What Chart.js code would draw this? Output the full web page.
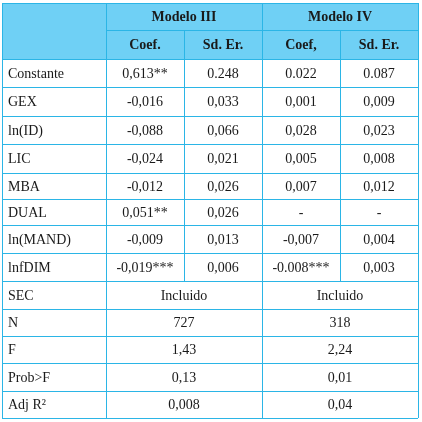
<!DOCTYPE html>
<html><head><meta charset="utf-8">
<script src="https://cdn.jsdelivr.net/npm/chart.js@4/dist/chart.umd.min.js"></script>
<style>html,body{margin:0;padding:0;background:#fff}#w{width:422px;height:422px}</style>
</head><body><div id="w"><canvas id="c"></canvas></div>
<script>
const models = ["Modelo III", "Modelo IV"];
const subHeaders = ["Coef.", "Sd. Er.", "Coef,", "Sd. Er."];
const variables = ["Constante","GEX","ln(ID)","LIC","MBA","DUAL","ln(MAND)","lnfDIM"];
const coefIII = ["0,613**","-0,016","-0,088","-0,024","-0,012","0,051**","-0,009","-0,019***"];
const sdIII = ["0.248","0,033","0,066","0,021","0,026","0,026","0,013","0,006"];
const coefIV = ["0.022","0,001","0,028","0,005","0,007","-","-0,007","-0.008***"];
const sdIV = ["0.087","0,009","0,023","0,008","0,012","-","0,004","0,003"];
const statLabels = ["SEC","N","F","Prob>F","Adj R²"];
const statIII = ["Incluido","727","1,43","0,13","0,008"];
const statIV = ["Incluido","318","2,24","0,01","0,04"];

const colEdges = [2,106,184,262,340,418];
const rowEdges = [3,30,59,87,116,144,173,199,225,253,281,309,336,363,391,418];

const tablePlugin = {
  id:'table',
  afterDraw(chart){
    const ctx=chart.ctx, xs=chart.scales.x, ys=chart.scales.y;
    const X=v=>xs.getPixelForValue(v), Y=v=>ys.getPixelForValue(v);
    const line='#2bb5e6';
    ctx.save();
    ctx.fillStyle='#6fd0f5';
    ctx.fillRect(X(colEdges[0]),Y(rowEdges[0]),X(colEdges[5])-X(colEdges[0]),Y(rowEdges[2])-Y(rowEdges[0]));
    ctx.strokeStyle=line; ctx.lineWidth=1;
    const hl=(y,x0,x1)=>{ctx.beginPath();ctx.moveTo(X(x0),Math.round(Y(y))+0.5);ctx.lineTo(X(x1),Math.round(Y(y))+0.5);ctx.stroke();};
    const vl=(x,y0,y1)=>{ctx.beginPath();ctx.moveTo(Math.round(X(x))+0.5,Y(y0));ctx.lineTo(Math.round(X(x))+0.5,Y(y1));ctx.stroke();};
    rowEdges.forEach((r,i)=>{ if(i===1) hl(r,colEdges[1],colEdges[5]); else hl(r,colEdges[0],colEdges[5]); });
    const last=rowEdges.length-1, dataEnd=2+variables.length;
    vl(colEdges[0],rowEdges[0],rowEdges[last]);
    vl(colEdges[1],rowEdges[0],rowEdges[last]);
    vl(colEdges[3],rowEdges[0],rowEdges[last]);
    vl(colEdges[5],rowEdges[0],rowEdges[last]);
    vl(colEdges[2],rowEdges[1],rowEdges[dataEnd]);
    vl(colEdges[4],rowEdges[1],rowEdges[dataEnd]);
    ctx.fillStyle='#1a1a1a'; ctx.textBaseline='middle';
    const txt=(s,x,r,align,bold)=>{ctx.font=(bold?'bold ':'')+'14px "Liberation Serif", serif';ctx.textAlign=align;ctx.fillText(s,X(x),(Y(rowEdges[r])+Y(rowEdges[r+1]))/2+1);};
    const mid=(a,b)=>(colEdges[a]+colEdges[b])/2;
    txt(models[0],mid(1,3),0,'center',true); txt(models[1],mid(3,5),0,'center',true);
    subHeaders.forEach((s,i)=>txt(s,mid(i+1,i+2),1,'center',true));
    variables.forEach((v,i)=>{const r=i+2;
      txt(v,colEdges[0]+6,r,'left');
      txt(coefIII[i],mid(1,2),r,'center'); txt(sdIII[i],mid(2,3),r,'center');
      txt(coefIV[i],mid(3,4),r,'center'); txt(sdIV[i],mid(4,5),r,'center');});
    statLabels.forEach((v,i)=>{const r=dataEnd+i;
      txt(v,colEdges[0]+6,r,'left');
      txt(statIII[i],mid(1,3),r,'center'); txt(statIV[i],mid(3,5),r,'center');});
    ctx.restore();
  }
};
new Chart(document.getElementById('c'),{
  type:'scatter',
  data:{datasets:[{data:[]}]},
  options:{responsive:true,maintainAspectRatio:false,animation:false,
    layout:{padding:0},
    plugins:{legend:{display:false},tooltip:{enabled:false}},
    scales:{x:{type:'linear',min:0,max:422,display:false},
            y:{type:'linear',min:0,max:422,reverse:true,display:false}}},
  plugins:[tablePlugin]
});
</script></body></html>
